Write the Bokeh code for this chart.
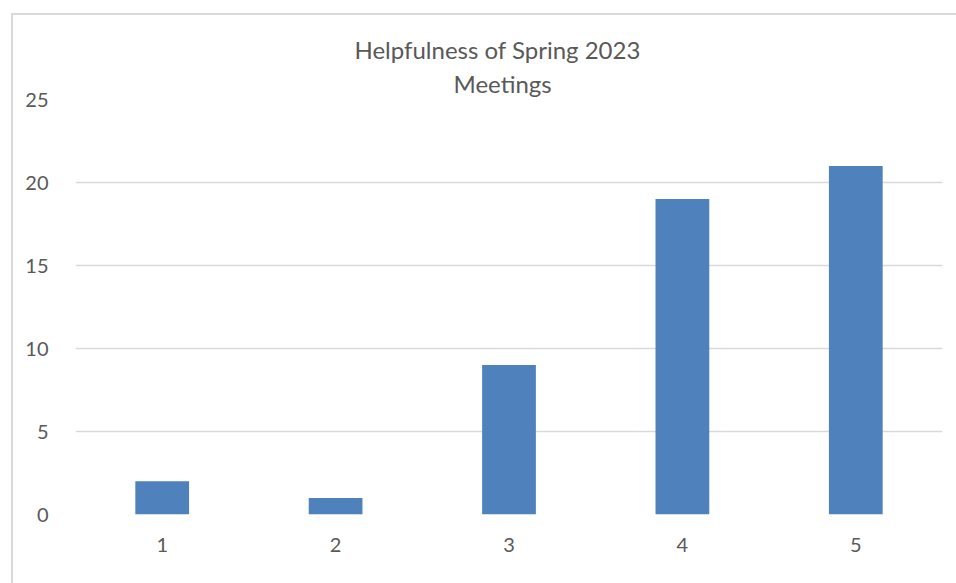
from bokeh.plotting import figure
from bokeh.models import ColumnDataSource, FactorRange, Range1d, Title, SingleIntervalTicker
from bokeh.embed import file_html
from bokeh.resources import INLINE

categories = ["1", "2", "3", "4", "5"]
counts = [2, 1, 9, 19, 21]
title_lines = ["Helpfulness of Spring 2023", "Meetings"]

TEXT = "#595959"
GRID = "#d9d9d9"
FONT = "Lato"

source = ColumnDataSource(data=dict(cat=categories, val=counts))

p = figure(
    x_range=FactorRange(*categories),
    y_range=Range1d(0, 25),
    width=956, height=583,
    output_backend="svg", toolbar_location=None,
    min_border_left=75, min_border_right=14,
    min_border_top=99, min_border_bottom=69,
    styles={"box-shadow": "inset 11px 13px 0 0 white, inset 13px 15px 0 0 #d9d9d9",
            "background-color": "white"},
)
p.outline_line_color = None
p.background_fill_color = "white"
p.border_fill_color = None

p.vbar(x="cat", top="val", width=0.31, source=source,
       fill_color="#4F81BD", line_color="#4F81BD", line_width=0)

p.yaxis.ticker = SingleIntervalTicker(interval=5)
for ax in (p.xaxis[0], p.yaxis[0]):
    ax.axis_line_color = None
    ax.major_tick_line_color = None
    ax.minor_tick_line_color = None
    ax.major_tick_out = 0
    ax.major_tick_in = 0
    ax.major_label_text_font = FONT
    ax.major_label_text_font_size = "20px"
    ax.major_label_text_color = TEXT
p.yaxis.major_label_standoff = 23
p.xaxis.major_label_standoff = 23

p.xgrid.grid_line_color = None
p.ygrid.grid_line_color = GRID
p.ygrid.grid_line_width = 1.5

p.title.text = title_lines[0]
p.title.align = "left"
p.title.offset = 279
p.title.text_font = FONT
p.title.text_font_size = "24px"
p.title.text_font_style = "normal"
p.title.text_color = TEXT
p.title.standoff = 4

p.add_layout(Title(text=title_lines[1], align="left", offset=378, text_font=FONT,
                   text_font_size="24px", text_font_style="normal",
                   text_color=TEXT, standoff=3), "above")

open("out.html", "w").write(file_html(p, INLINE))
